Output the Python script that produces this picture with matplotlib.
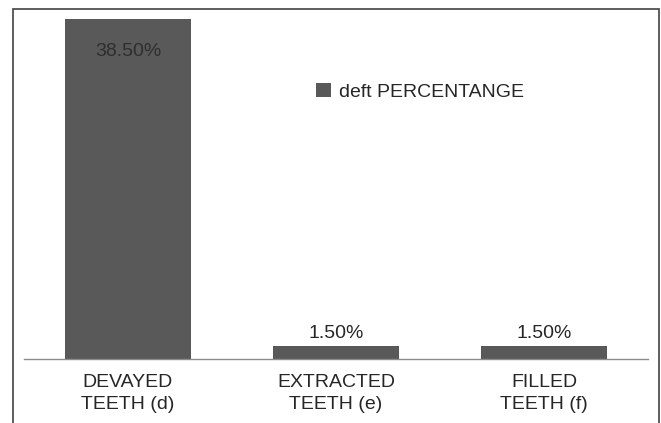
import matplotlib
matplotlib.use("Agg")
import matplotlib.pyplot as plt
from matplotlib.patches import Rectangle, Patch

plt.rcParams['font.family'] = ['Liberation Sans', 'DejaVu Sans']

categories = ["DEVAYED\nTEETH (d)", "EXTRACTED\nTEETH (e)", "FILLED\nTEETH (f)"]
values = [38.50, 1.50, 1.50]
value_labels = ["38.50%", "1.50%", "1.50%"]
series_name = "deft PERCENTANGE"

W, H = 661, 423
fig = plt.figure(figsize=(W / 100, H / 100), dpi=100)

def fx(px):
    return px / W

def fy(py):
    return 1 - py / H

bar_color = "#595959"
text_color = "#262626"

# plot area: x axis from 24 to 648 px, baseline at 359 px
left, right, bottom, top = 24, 648, 359, 19
ax = fig.add_axes([fx(left), fy(bottom), fx(right) - fx(left), fy(top) - fy(bottom)])

x = list(range(len(categories)))
bars = ax.bar(x, values, width=0.61, color=bar_color, zorder=2)
ax.set_xlim(-0.5, len(categories) - 0.5)
ax.set_ylim(0, max(values))

for s in ["top", "right", "left"]:
    ax.spines[s].set_visible(False)
ax.spines["bottom"].set_color("#8c8c8c")
ax.spines["bottom"].set_linewidth(1.0)
ax.set_yticks([])
ax.set_xticks(x)
ax.set_xticklabels(categories, fontsize=14, color=text_color, linespacing=1.4)
ax.tick_params(axis="x", length=0, pad=11)

for i, (b, v, lab) in enumerate(zip(bars, values, value_labels)):
    cx = b.get_x() + b.get_width() / 2
    if v > 10:
        ax.annotate(lab, (cx, v), xytext=(0, -32), textcoords="offset pixels",
                    ha="center", va="center", fontsize=14, color="#2e2e2e")
    else:
        ax.annotate(lab, (cx, v), xytext=(0, 4), textcoords="offset pixels",
                    ha="center", va="bottom", fontsize=14, color=text_color)

handle = Patch(facecolor=bar_color, edgecolor="none")
fig.legend([handle], [series_name], loc="upper left",
           bbox_to_anchor=(fx(316), fy(83)), frameon=False,
           fontsize=14, handlelength=0.75, handleheight=0.75,
           handletextpad=0.45, borderpad=0, borderaxespad=0,
           labelcolor=text_color)

# outer frame (open at the bottom edge of the image)
frame = Rectangle((fx(12.5), fy(440)), fx(659) - fx(12.5), fy(8.5) - fy(440),
                  transform=fig.transFigure, fill=False,
                  edgecolor="#505050", linewidth=1.3, clip_on=False)
fig.add_artist(frame)

fig.savefig("out.png", dpi=100)
